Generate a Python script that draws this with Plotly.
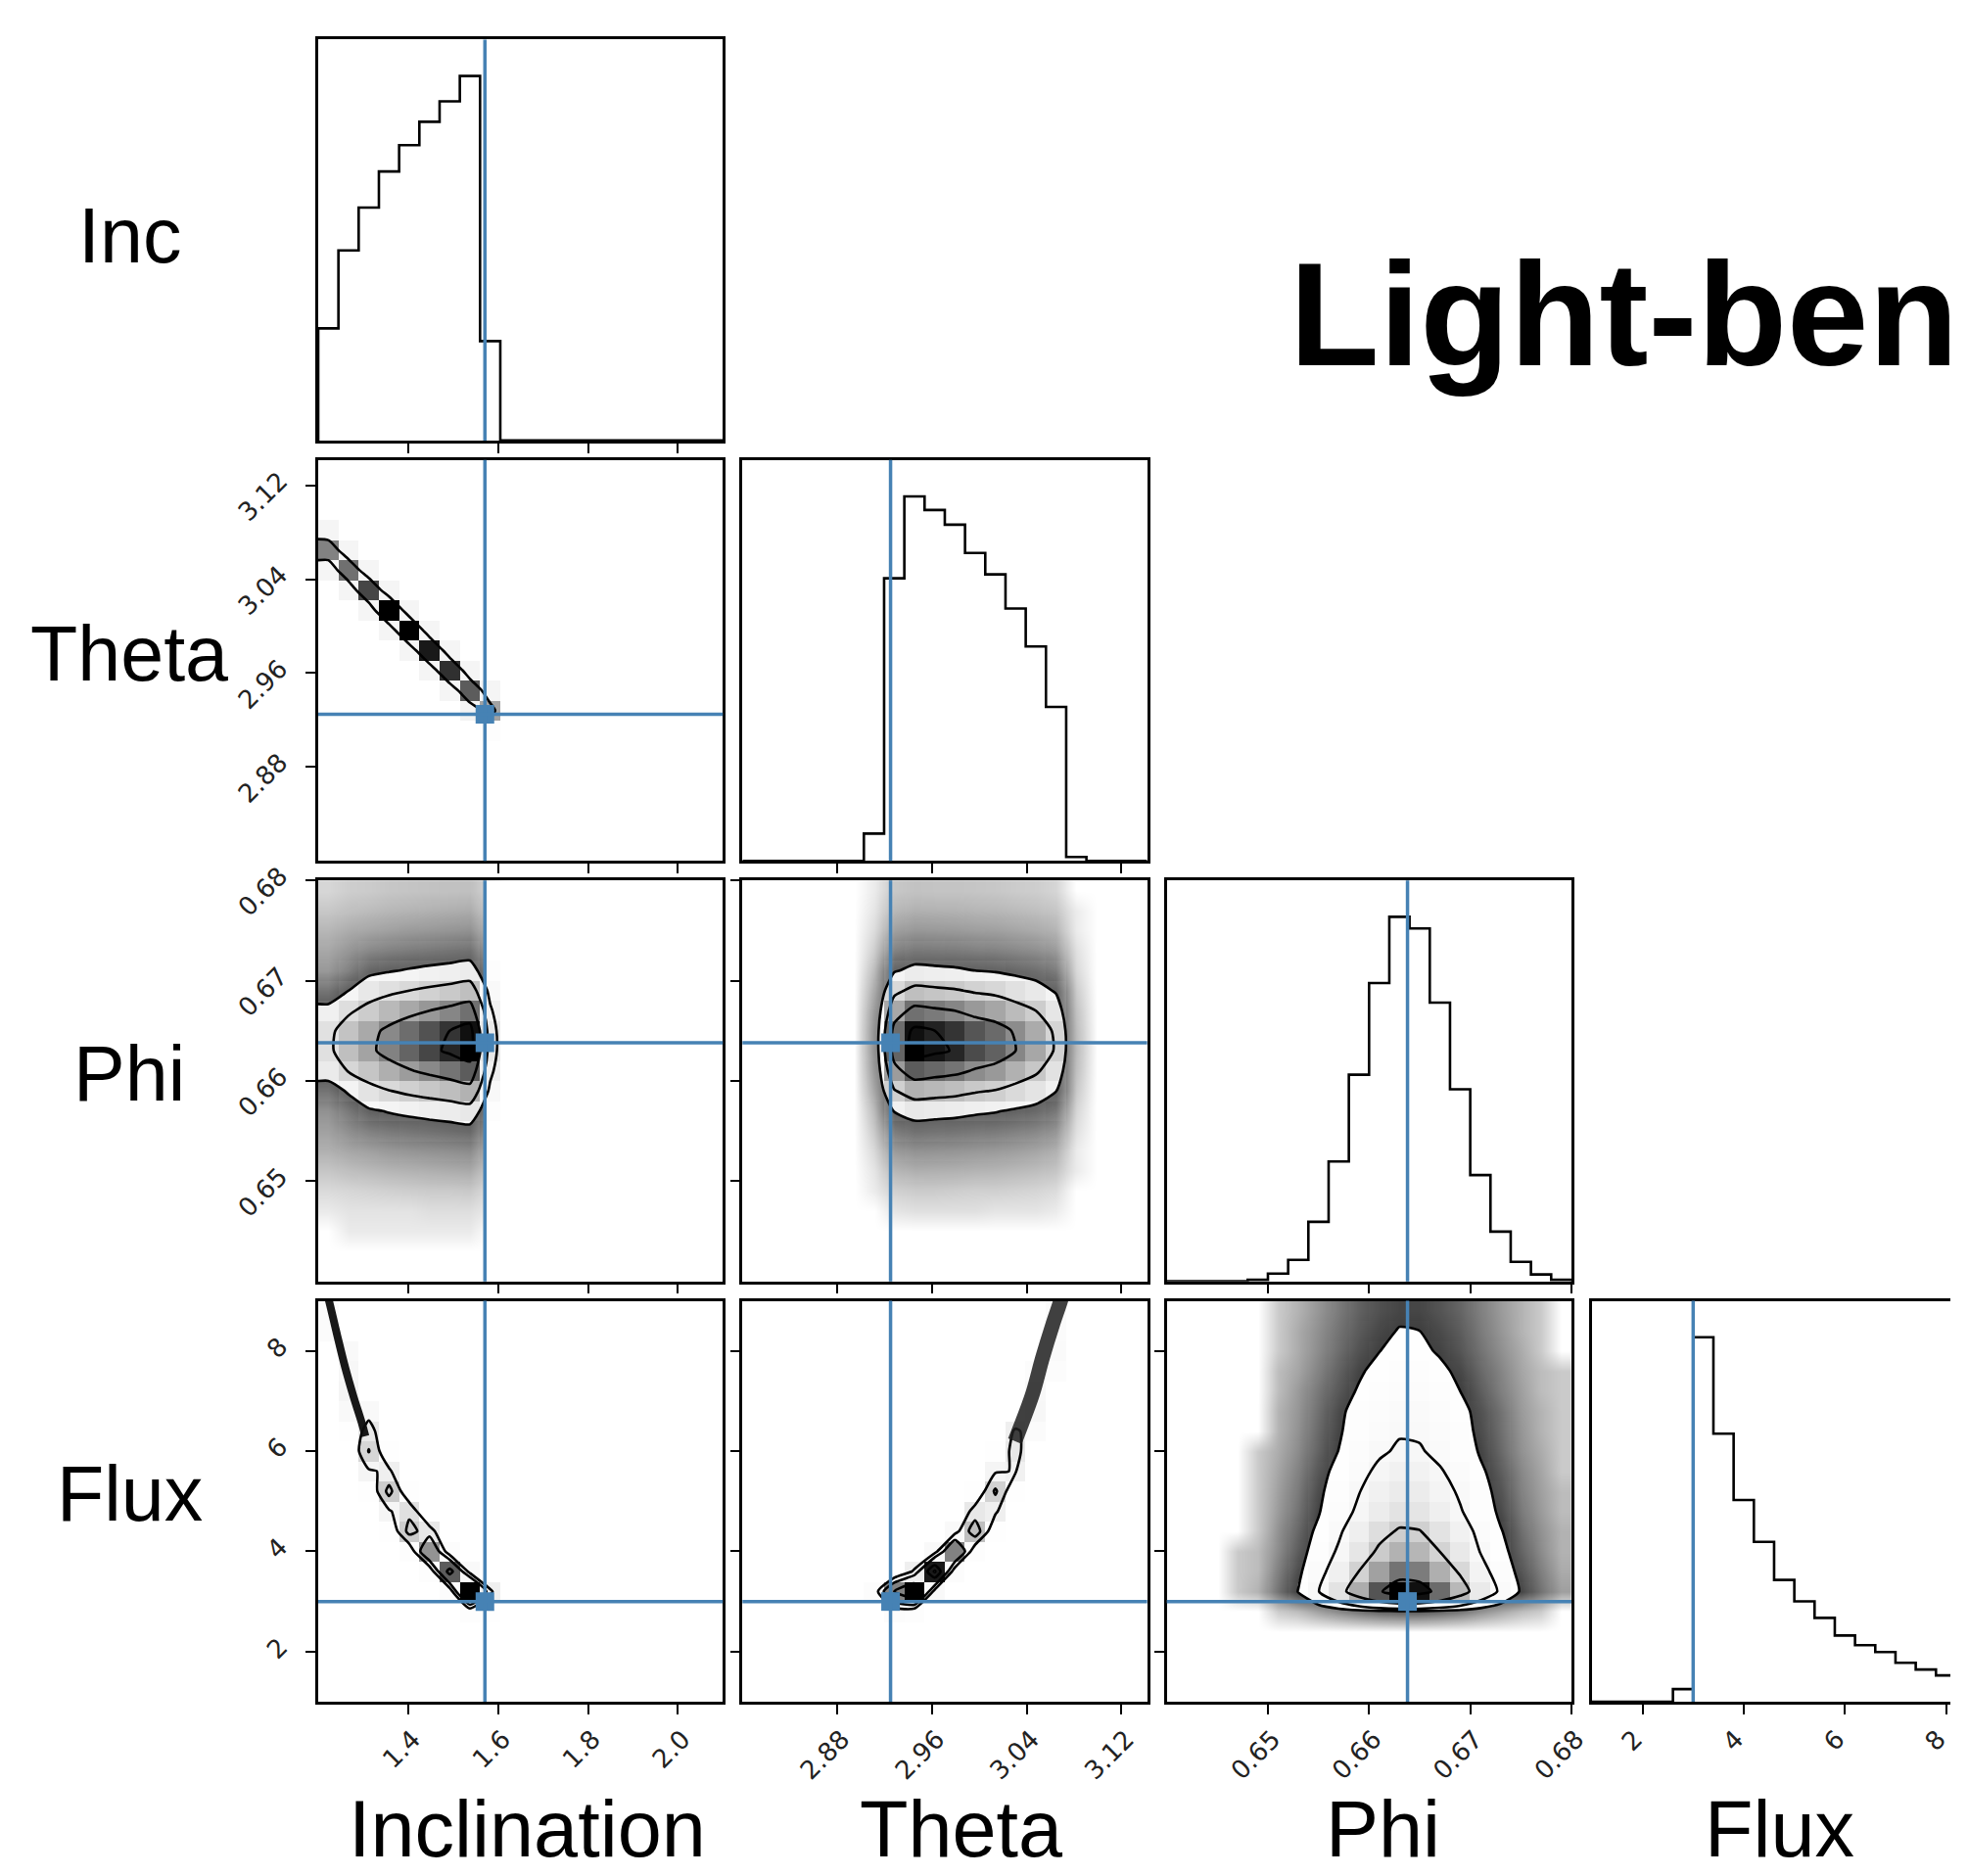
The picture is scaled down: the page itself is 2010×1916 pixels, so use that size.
import numpy as np
import plotly.graph_objects as go

# ---------------- data ----------------
LABELS_LEFT = ["Inc", "Theta", "Phi", "Flux"]
LABELS_BOTTOM = ["Inclination", "Theta", "Phi", "Flux"]
TITLE_TEXT = "Light-ben"

RANGE_INC = [1.2, 2.1]
RANGE_THETA = [2.8, 3.14159]
RANGE_PHI = [0.64, 0.68]
RANGE_FLUX = [1.0, 9.0]

TRUTH_INC = 1.5708
TRUTH_THETA = 2.925
TRUTH_PHI = 0.6638
TRUTH_FLUX = 3.0
PRIOR_INC_MAX = 1.5708

TICKS_INC = [1.4, 1.6, 1.8, 2.0]
TICKS_THETA = [2.88, 2.96, 3.04, 3.12]
TICKS_PHI = [0.65, 0.66, 0.67, 0.68]
TICKS_FLUX = [2, 4, 6, 8]
TICKTEXT_INC = ["1.4", "1.6", "1.8", "2.0"]
TICKTEXT_THETA = ["2.88", "2.96", "3.04", "3.12"]
TICKTEXT_PHI = ["0.65", "0.66", "0.67", "0.68"]
TICKTEXT_FLUX = ["2", "4", "6", "8"]

NBINS = 20
HIST_INC = [115, 195, 239, 276, 303, 327, 348, 374, 102, 0, 0, 0, 0, 0, 0, 0, 0, 0, 0, 0]
HIST_THETA = [0, 0, 0, 0, 0, 0, 28, 290, 374, 360, 345, 316, 294, 259, 220, 158, 4, 0, 0, 0]
HIST_PHI = [0, 0, 0, 0, 1.5, 8, 22, 61, 123, 212, 306, 374, 362, 286, 197, 109, 51, 20, 7, 1.5]
HIST_FLUX = [0, 0, 0, 0, 13, 374, 275, 207, 164, 125, 103, 86, 68, 58, 51, 40, 33, 27, 22, 19]

# 2-D histograms (20x20 bins over the axis ranges). Rows listed from the top bin down,
# trailing zero bins omitted.
H_THETA_INC = [
    "0", "0", "0",
    "200",
    "700 200",
    "200 750 200",
    "0 200 850 200",
    "0 0 200 1000 200",
    "0 0 0 200 1000 200",
    "0 0 0 0 200 950 200",
    "0 0 0 0 0 200 900 200",
    "0 0 0 0 0 0 200 800 200",
    "0 0 0 0 0 0 0 220 600",
    "0 0 0 0 0 0 0 0 80",
    "0", "0", "0", "0", "0", "0",
]
H_PHI_INC = [
    "5 8 9 11 12 13 14 15 5",
    "11 15 18 21 23 26 28 30 9",
    "21 30 36 42 47 51 55 60 18",
    "35 55 78 91 101 111 120 130 39",
    "50 90 162 189 211 230 248 270 81",
    "120 200 300 350 390 425 460 500 150",
    "240 360 450 525 585 638 690 750 225",
    "340 485 582 679 757 825 892 970 291",
    "350 500 600 700 780 850 920 1000 300",
    "280 400 480 560 624 680 736 800 240",
    "120 220 330 385 429 468 506 550 165",
    "60 110 180 210 234 255 276 300 90",
    "40 65 90 105 117 128 138 150 45",
    "25 35 42 49 55 60 64 70 21",
    "11 15 18 21 23 26 28 30 9",
    "4 5 6 7 8 9 9 10 3",
    "1 2 2 2 2 3 3 3 1",
    "0 1 1 1 1 1 1 1 0",
    "0", "0",
]
H_PHI_THETA = [
    "0 0 0 0 0 0 1 12 15 14 14 13 12 10 9 6 0",
    "0 0 0 0 0 0 2 23 30 29 28 25 24 21 18 13 1",
    "0 0 0 0 0 0 4 47 60 58 55 50 47 41 35 25 1",
    "0 0 0 0 0 0 9 101 130 125 120 109 103 90 77 55 3",
    "0 0 0 0 0 0 19 211 270 259 248 227 213 186 159 113 5",
    "0 0 0 0 0 0 35 390 500 480 460 420 395 345 295 210 10",
    "0 0 0 0 0 0 53 585 750 720 690 630 593 518 443 315 15",
    "0 0 0 0 0 0 68 757 970 931 892 815 766 669 572 407 19",
    "0 0 0 0 0 0 70 780 1000 960 920 840 790 690 590 420 20",
    "0 0 0 0 0 0 56 624 800 768 736 672 632 552 472 336 16",
    "0 0 0 0 0 0 39 429 550 528 506 462 435 380 325 231 11",
    "0 0 0 0 0 0 21 234 300 288 276 252 237 207 177 126 6",
    "0 0 0 0 0 0 11 117 150 144 138 126 119 104 89 63 3",
    "0 0 0 0 0 0 5 55 70 67 64 59 55 48 41 29 1",
    "0 0 0 0 0 0 2 23 30 29 28 25 24 21 18 13 1",
    "0 0 0 0 0 0 1 8 10 10 9 8 8 7 6 4 0",
    "0 0 0 0 0 0 0 2 3 3 3 3 2 2 2 1 0",
    "0", "0", "0",
]
H_FLUX_INC = [
    "120",
    "130 40",
    "0 150",
    "0 180",
    "0 200",
    "0 150 150",
    "0 50 300 40",
    "0 30 400 60",
    "0 0 200 250",
    "0 0 50 450 60",
    "0 0 0 200 350",
    "0 0 0 50 450 300",
    "0 0 0 0 80 650 100",
    "0 0 0 0 0 80 800 150",
    "0 0 0 0 0 0 100 1000 250",
    "0 0 0 0 0 0 0 80 60",
    "0", "0", "0", "0",
]
H_FLUX_THETA = [
    "0 0 0 0 0 0 0 0 0 0 0 0 0 0 0 120",
    "0 0 0 0 0 0 0 0 0 0 0 0 0 0 0 130",
    "0 0 0 0 0 0 0 0 0 0 0 0 0 0 0 140",
    "0 0 0 0 0 0 0 0 0 0 0 0 0 0 100 100",
    "0 0 0 0 0 0 0 0 0 0 0 0 0 0 160",
    "0 0 0 0 0 0 0 0 0 0 0 0 0 0 180",
    "0 0 0 0 0 0 0 0 0 0 0 0 0 250 120",
    "0 0 0 0 0 0 0 0 0 0 0 0 50 300",
    "0 0 0 0 0 0 0 0 0 0 0 0 200 230",
    "0 0 0 0 0 0 0 0 0 0 0 50 420 50",
    "0 0 0 0 0 0 0 0 0 0 0 300 250",
    "0 0 0 0 0 0 0 0 0 0 150 500 60",
    "0 0 0 0 0 0 0 0 0 150 700 80",
    "0 0 0 0 0 0 0 0 250 950 100",
    "0 0 0 0 0 0 100 700 1000 150",
    "0 0 0 0 0 0 0 100 80",
    "0", "0", "0", "0",
]
H_FLUX_PHI = [
    "0 0 0 0 0 1 3 8 17 29 41 50 49 38 27 15 7 3 1 0",
    "0 0 0 0 0 1 4 10 20 34 49 60 58 46 32 17 8 3 1 0",
    "0 0 0 0 0 1 4 11 23 40 57 70 68 53 37 20 10 4 1 0",
    "0 0 0 0 0 2 5 14 30 51 74 90 87 68 48 26 13 5 2 1",
    "0 0 0 0 0 2 7 18 36 63 90 110 107 84 58 32 15 6 2 1",
    "0 0 0 0 0 3 8 22 46 80 115 140 136 106 74 41 20 7 3 1",
    "0 0 0 0 0 3 9 25 51 88 127 155 150 118 82 45 22 8 3 1",
    "0 0 0 0 1 4 11 29 59 103 148 180 175 137 95 52 25 9 4 1",
    "0 0 0 0 1 5 14 37 76 131 189 230 223 175 122 67 32 12 5 1",
    "0 0 0 0 1 6 17 45 92 160 230 280 272 213 148 81 39 14 6 2",
    "0 0 0 0 1 7 20 53 109 188 271 330 320 251 175 96 46 17 7 2",
    "0 0 0 0 1 9 26 70 145 251 361 440 427 334 233 128 62 22 9 3",
    "0 0 0 1 2 11 33 88 182 314 451 550 534 418 292 160 77 28 11 3",
    "0 0 0 1 2 15 44 118 244 422 607 740 718 562 392 215 104 37 15 4",
    "0 0 0 1 3 20 60 160 330 570 820 1000 970 760 530 290 140 50 20 6",
    "0 0 0 0 0 1 2 6 12 20 29 35 34 27 19 10 5 2 1 0",
    "0", "0", "0", "0",
]

# dense ridge of samples above the outer contour
RIDGE_FI_INC = [1.305, 1.2967, 1.2785, 1.260, 1.242, 1.224, 1.215]
RIDGE_FI_FLUX = [6.3, 6.57, 7.09, 7.67, 8.32, 9.0, 9.3]
RIDGE_FT_THETA = [3.030, 3.0339, 3.045, 3.0533, 3.0617, 3.0686, 3.071]
RIDGE_FT_FLUX = [6.2, 6.436, 7.15, 7.865, 8.513, 9.0, 9.2]

# ---------------- layout geometry (pixel positions in the reference picture) ----------------
W, H = 2010, 1916
# calibration of the rendering: observed_x = SX * x ; observed_y = Y0 + SY * y
SX, SY, Y0 = 0.988, 0.9956, 8.5


def fx(px):
    return px / SX / W


def fy(py):
    return 1.0 - (py - Y0) / SY / H


PANEL = 412
COL_LEFT = [324, 756, 1188, 1621]
ROW_TOP = [29, 461, 893, 1325]
XLABEL_SHIFT = [5, 5, 5, -8]
TRUTH_BLUE = "#4682b4"

RANGES = [RANGE_INC, RANGE_THETA, RANGE_PHI, RANGE_FLUX]
TRUTHS = [TRUTH_INC, TRUTH_THETA, TRUTH_PHI, TRUTH_FLUX]
TICKS = [TICKS_INC, TICKS_THETA, TICKS_PHI, TICKS_FLUX]
TICKTEXTS = [TICKTEXT_INC, TICKTEXT_THETA, TICKTEXT_PHI, TICKTEXT_FLUX]
HISTS = [HIST_INC, HIST_THETA, HIST_PHI, HIST_FLUX]

SIGMA_LEVELS = 1.0 - np.exp(-0.5 * np.arange(0.5, 2.1, 0.5) ** 2)


def edges(rng):
    return np.linspace(rng[0], rng[1], NBINS + 1)


def centers(rng):
    e = edges(rng)
    return 0.5 * (e[1:] + e[:-1])


def parse(rows):
    m = np.zeros((NBINS, NBINS))
    for jj, row in enumerate(rows):
        vals = [float(v) for v in row.split()]
        m[NBINS - 1 - jj, :len(vals)] = vals
    return m


def corner_levels(Hm):
    flat = Hm.flatten()
    flat = flat[np.argsort(flat)[::-1]]
    sm = np.cumsum(flat)
    sm /= sm[-1]
    V = np.empty(len(SIGMA_LEVELS))
    for i, v0 in enumerate(SIGMA_LEVELS):
        sel = flat[sm <= v0]
        V[i] = sel[-1] if len(sel) else flat[0]
    V.sort()
    return V


def pad(Hm, xc, yc):
    H2 = Hm.min() + np.zeros((Hm.shape[0] + 4, Hm.shape[1] + 4))
    H2[2:-2, 2:-2] = Hm
    H2[2:-2, 1] = Hm[:, 0]
    H2[2:-2, -2] = Hm[:, -1]
    H2[1, 2:-2] = Hm[0]
    H2[-2, 2:-2] = Hm[-1]
    H2[1, 1] = Hm[0, 0]
    H2[1, -2] = Hm[0, -1]
    H2[-2, 1] = Hm[-1, 0]
    H2[-2, -2] = Hm[-1, -1]
    dx = xc[1] - xc[0]
    dy = yc[1] - yc[0]
    X2 = np.concatenate([xc[0] + np.array([-2, -1]) * dx, xc, xc[-1] + np.array([1, 2]) * dx])
    Y2 = np.concatenate([yc[0] + np.array([-2, -1]) * dy, yc, yc[-1] + np.array([1, 2]) * dy])
    return X2, Y2, H2


DENS_CS = []
for t in np.linspace(0, 1, 11):
    c = int(round(255 * (1 - t)))
    DENS_CS.append([float(t), f"rgba({c},{c},{c},{t:.3f})"])
CLOUD_CS = [[0, "rgba(0,0,0,0)"], [1, "rgba(0,0,0,1)"]]

PANELS_2D = {
    (1, 0): dict(H=H_THETA_INC, levels=[0.45, 0.95], cloud=False),
    (2, 0): dict(H=H_PHI_INC, levels=None, cloud=True, xmax=PRIOR_INC_MAX, gamma=0.42, gain=0.75),
    (2, 1): dict(H=H_PHI_THETA, levels=None, cloud=True, gamma=0.42, gain=0.75),
    (3, 0): dict(H=H_FLUX_INC, levels=[0.22, 0.39, 0.7, 0.92], cloud=False,
                 ridge=(RIDGE_FI_INC, RIDGE_FI_FLUX, 8, "rgba(12,12,12,0.95)")),
    (3, 1): dict(H=H_FLUX_THETA, levels=[0.22, 0.39, 0.7, 0.92], cloud=False,
                 ridge=(RIDGE_FT_THETA, RIDGE_FT_FLUX, 15, "rgba(30,30,30,0.85)")),
    (3, 2): dict(H=H_FLUX_PHI, levels=[0.058, 0.165, 0.42, 0.85], cloud=True, gamma=0.33, gain=0.8),
}

fig = go.Figure()
layout = dict(width=W, height=H, margin=dict(l=0, r=0, t=0, b=0, pad=0), autosize=False,
              paper_bgcolor="white", plot_bgcolor="rgba(0,0,0,0)", showlegend=False,
              font=dict(family="DejaVu Sans", color="black"))
shapes = []

TICKFONT = dict(family="DejaVu Sans", size=26, color="#222")
axis_common = dict(showline=True, linecolor="black", linewidth=2.5, showgrid=False,
                   zeroline=False, fixedrange=True, tickcolor="black", ticklen=10, tickwidth=2,
                   tickfont=TICKFONT, tickangle=-45)

overlay_id = 10
k = 0
for r in range(4):
    for c in range(r + 1):
        k += 1
        xname = "xaxis" if k == 1 else f"xaxis{k}"
        yname = "yaxis" if k == 1 else f"yaxis{k}"
        xr = f"x{k}" if k > 1 else "x"
        yr = f"y{k}" if k > 1 else "y"

        lo, hi = RANGES[c]
        x0d, x1d = fx(COL_LEFT[c]), fx(COL_LEFT[c] + PANEL)
        if x1d > 1.0:
            xrange = [lo, lo + (hi - lo) * (1.0 - x0d) / (x1d - x0d)]
            x1d = 1.0
        else:
            xrange = [lo, hi]
        xdom = [x0d, x1d]
        ydom = [fy(ROW_TOP[r] + PANEL), fy(ROW_TOP[r])]

        xax = dict(axis_common, domain=xdom, range=xrange, anchor=yr, mirror=True,
                   ticks="outside", tickvals=TICKS[c], ticktext=TICKTEXTS[c],
                   showticklabels=(r == 3), ticklabelstandoff=0, ticklabelshift=XLABEL_SHIFT[c],
                   ticklabeloverflow="allow")
        if r == c:
            hist = HISTS[c]
            yax = dict(axis_common, domain=ydom, range=[0, 1.1 * max(hist)], anchor=xr,
                       mirror=(c != 3), ticks="", showticklabels=False)
            e = edges(RANGES[c])
            xs = [e[0]] + list(e[:-1]) + [e[-1]]
            ys = [0] + list(hist) + [0]
            fig.add_trace(go.Scatter(x=xs, y=ys, mode="lines", line=dict(color="black", width=2.6, shape="hv"),
                                     xaxis=xr, yaxis=yr, hoverinfo="skip"))
            shapes.append(dict(type="line", xref=xr, yref=f"{yr} domain", x0=TRUTHS[c], x1=TRUTHS[c],
                               y0=0, y1=1, line=dict(color=TRUTH_BLUE, width=3.5)))
            layout[xname] = xax
            layout[yname] = yax
            continue

        yax = dict(axis_common, domain=ydom, range=RANGES[r], anchor=xr, mirror=True,
                   ticks="outside", tickvals=TICKS[r], ticktext=TICKTEXTS[r],
                   showticklabels=(c == 0), ticklabelstandoff=21, ticklabelshift=-8)
        layout[xname] = xax
        layout[yname] = yax

        spec = PANELS_2D[(r, c)]
        Hm = parse(spec["H"])
        xc = centers(RANGES[c])
        yc = centers(RANGES[r])
        hmax = Hm.max()
        levels = corner_levels(Hm) if spec["levels"] is None else np.array(spec["levels"]) * hmax
        vout = levels[0]
        X2, Y2, H2 = pad(Hm, xc, yc)

        # top layer (density, contours, truth point) lives on an overlaid y axis
        top_y = yr
        if spec["cloud"]:
            overlay_id += 1
            top_y = f"y{overlay_id}"
            layout[f"yaxis{overlay_id}"] = dict(overlaying=yr, range=RANGES[r], visible=False,
                                                fixedrange=True, anchor=xr)
            # data-point cloud (under everything)
            cl = spec["gain"] * np.clip(Hm / vout, 0, 1) ** spec["gamma"]
            fig.add_trace(go.Heatmap(x=xc, y=yc, z=cl, zmin=0, zmax=1, zsmooth="best",
                                     colorscale=CLOUD_CS, showscale=False,
                                     xaxis=xr, yaxis=yr, hoverinfo="skip"))
            # white fill inside the lowest contour (plotly shades the region failing the constraint)
            fig.add_trace(go.Contour(x=X2, y=Y2, z=H2,
                                     contours=dict(type="constraint", operation="<", value=float(vout)),
                                     fillcolor="white", line=dict(width=0), showscale=False,
                                     xaxis=xr, yaxis=yr, hoverinfo="skip"))
            if "xmax" in spec:
                xm = spec["xmax"]
                fig.add_trace(go.Scatter(x=[xm, hi, hi, xm, xm],
                                         y=[RANGES[r][0], RANGES[r][0], RANGES[r][1], RANGES[r][1], RANGES[r][0]],
                                         mode="lines", fill="toself", fillcolor="white",
                                         line=dict(width=0, color="white"),
                                         xaxis=xr, yaxis=yr, hoverinfo="skip"))

        fig.add_trace(go.Heatmap(x=xc, y=yc, z=Hm / hmax, zmin=0, zmax=1, zsmooth=False,
                                 colorscale=DENS_CS, showscale=False,
                                 xaxis=xr, yaxis=top_y, hoverinfo="skip"))
        for V in levels:
            fig.add_trace(go.Contour(x=X2, y=Y2, z=H2, autocontour=False,
                                     contours=dict(start=float(V), end=float(V), size=float(max(V, 1e-6)),
                                                   coloring="lines"),
                                     line=dict(width=2.6, smoothing=0.6),
                                     colorscale=[[0, "black"], [1, "black"]], showscale=False,
                                     xaxis=xr, yaxis=top_y, hoverinfo="skip"))
        if "ridge" in spec:
            rx, ry, rw, rc = spec["ridge"]
            fig.add_trace(go.Scatter(x=rx, y=ry, mode="lines",
                                     line=dict(color=rc, width=rw, shape="spline"),
                                     xaxis=xr, yaxis=top_y, hoverinfo="skip"))
        fig.add_trace(go.Scatter(x=[TRUTHS[c]], y=[TRUTHS[r]], mode="markers",
                                 marker=dict(symbol="square", size=19, color=TRUTH_BLUE),
                                 xaxis=xr, yaxis=top_y, hoverinfo="skip"))
        shapes.append(dict(type="line", xref=xr, yref=f"{yr} domain", x0=TRUTHS[c], x1=TRUTHS[c],
                           y0=0, y1=1, line=dict(color=TRUTH_BLUE, width=3.5)))
        shapes.append(dict(type="line", xref=f"{xr} domain", yref=yr, x0=0, x1=1,
                           y0=TRUTHS[r], y1=TRUTHS[r], line=dict(color=TRUTH_BLUE, width=3.5)))

annotations = []
LEFT_Y = [230, 660, 1092, 1523]
for txt, yc_ in zip(LABELS_LEFT, LEFT_Y):
    annotations.append(dict(text=txt, x=fx(132), y=fy(yc_), xref="paper", yref="paper",
                            xanchor="center", yanchor="middle", showarrow=False,
                            font=dict(family="Liberation Sans, Arial", size=79, color="black")))
BOTTOM_X = [537, 979, 1408, 1812]
for txt, xc_ in zip(LABELS_BOTTOM, BOTTOM_X):
    annotations.append(dict(text=txt, x=fx(xc_), y=0.0012, xref="paper", yref="paper",
                            xanchor="center", yanchor="bottom", showarrow=False, borderpad=0,
                            font=dict(family="Liberation Sans, Arial", size=81, color="black")))
annotations.append(dict(text=TITLE_TEXT, x=1327 / W, y=1 - 304 / H, xref="paper", yref="paper",
                        xanchor="left", yanchor="middle", showarrow=False,
                        font=dict(family="Liberation Sans, Arial", size=150, color="black", weight="bold")))

layout["shapes"] = shapes
layout["annotations"] = annotations
fig.update_layout(**layout)
fig.write_html("out.html", config={"responsive": False})
